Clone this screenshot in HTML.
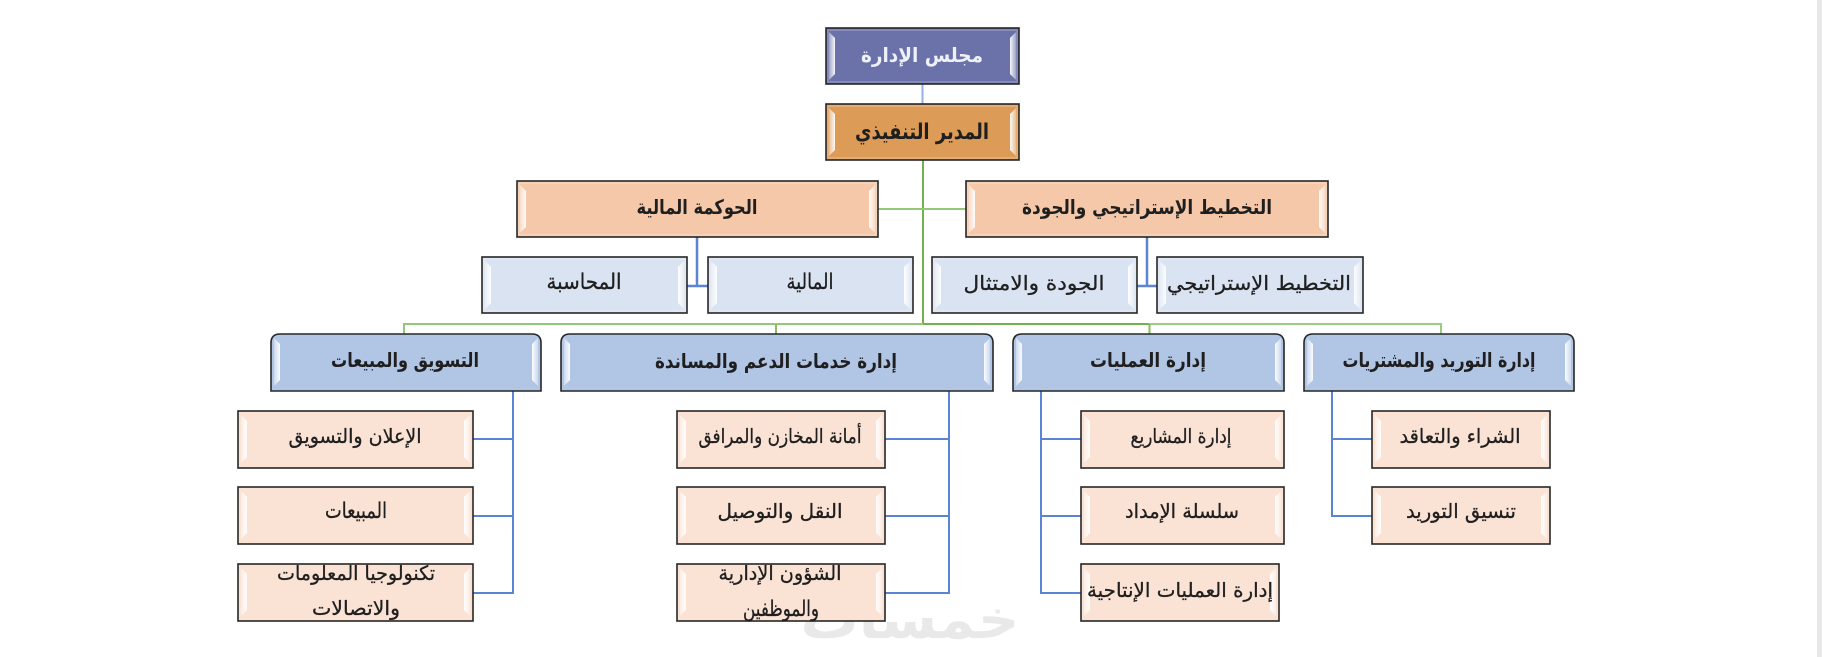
<!DOCTYPE html>
<html lang="ar">
<head>
<meta charset="utf-8">
<title>الهيكل التنظيمي</title>
<style>
html,body{margin:0;padding:0;background:#fff;width:1822px;height:657px;overflow:hidden}
svg{display:block;filter:blur(.3px)}
text{font-family:"DejaVu Sans","Liberation Sans",sans-serif;direction:rtl;text-anchor:middle;fill:#1f1f1f;font-size:20px;stroke:#1f1f1f;stroke-width:.3px}
.b{font-weight:bold;font-size:20px;stroke-width:0}
.box{stroke:#262626;stroke-width:1.6}
.in{fill:none;stroke:#fff;stroke-opacity:.18;stroke-width:2}
.bar{fill:url(#bargrad)}
.bar2{fill:url(#bargrad2)}
.line{fill:none;stroke:#5b85d2;stroke-width:2}
.g{fill:none;stroke:#86bd62;stroke-width:2}
</style>
</head>
<body>
<svg xmlns="http://www.w3.org/2000/svg" width="1822" height="657" viewBox="0 0 1822 657">
<defs>
<linearGradient id="bargrad" x1="0" x2="1" y1="0" y2="0"><stop offset="0" stop-color="#fff" stop-opacity=".35"/><stop offset="1" stop-color="#fff" stop-opacity=".95"/></linearGradient>
<linearGradient id="bargrad2" x1="0" x2="1" y1="0" y2="0"><stop offset="0" stop-color="#fff" stop-opacity=".95"/><stop offset="1" stop-color="#fff" stop-opacity=".35"/></linearGradient>
<polygon id="lb" class="bar" points="3,4 9,10 9,46 3,52"/>
<polygon id="rb" class="bar2" points="-3,4 -9,10 -9,46 -3,52"/>
</defs>
<rect x="1817" y="0" width="5" height="657" fill="#e8e8e8"/>

<!-- watermark -->
<text class="b" x="910" y="638" textLength="219" lengthAdjust="spacingAndGlyphs" style="font-size:54px;fill:#e9e9e9;stroke:none">خمسات</text>

<!-- connectors -->
<path d="M922.5 84V104" fill="none" stroke="#93b1e2" stroke-width="2"/>
<path class="g" d="M923 160V325" style="stroke:#72b04c"/>
<path class="g" d="M878 209H966" style="stroke:#93c878"/>
<path class="g" d="M404 334V324H923" style="stroke:#93c878"/>
<path class="g" d="M923 324H1149" style="stroke:#74b24e"/>
<path class="g" d="M1149 324H1441V334" style="stroke:#9ccc82"/>
<path class="g" d="M776 334V324"/>
<path class="g" d="M1149.5 334V324"/>
<path class="line" d="M1147 237V286M1137 286H1157" style="stroke-width:2.5"/>
<path class="line" d="M697 237V286M687 286H708" style="stroke-width:2.5"/>
<path class="line" d="M513 391V593H473M473 439H513M473 516H513"/>
<path class="line" d="M949 391V593H885M885 439H949M885 516H949"/>
<path class="line" d="M1041 391V593H1081M1081 439H1041M1081 516H1041"/>
<path class="line" d="M1332 391V516H1372M1372 439H1332"/>

<!-- level 1 -->
<g transform="translate(826,28)"><rect class="box" width="193" height="56" fill="#6b72a9"/><rect class="in" x="2" y="2" width="189" height="52"/><use href="#lb"/><use href="#rb" x="193"/></g>
<text class="b" x="922" y="62" textLength="122" lengthAdjust="spacingAndGlyphs" style="fill:#eef1f8">مجلس الإدارة</text>
<g transform="translate(826,104)"><rect class="box" width="193" height="56" fill="#dd9b58"/><rect class="in" x="2" y="2" width="189" height="52"/><use href="#lb"/><use href="#rb" x="193"/></g>
<text class="b" x="922" y="139" textLength="134" lengthAdjust="spacingAndGlyphs" style="font-size:22px">المدير التنفيذي</text>

<!-- level 2 -->
<g transform="translate(966,181)"><rect class="box" width="362" height="56" fill="#f5c8a9"/><rect class="in" x="2" y="2" width="358" height="52"/><use href="#lb"/><use href="#rb" x="362"/></g>
<text class="b" x="1147" y="214" textLength="250" lengthAdjust="spacingAndGlyphs">التخطيط الإستراتيجي والجودة</text>
<g transform="translate(517,181)"><rect class="box" width="361" height="56" fill="#f5c8a9"/><rect class="in" x="2" y="2" width="357" height="52"/><use href="#lb"/><use href="#rb" x="361"/></g>
<text class="b" x="697" y="214" textLength="121" lengthAdjust="spacingAndGlyphs">الحوكمة المالية</text>

<!-- level 3 -->
<g transform="translate(1157,257)"><rect class="box" width="206" height="56" fill="#d9e3f2"/><rect class="in" x="2" y="2" width="202" height="52"/><use href="#lb"/><use href="#rb" x="206"/></g>
<text x="1259" y="290" textLength="184" lengthAdjust="spacingAndGlyphs">التخطيط الإستراتيجي</text>
<g transform="translate(932,257)"><rect class="box" width="205" height="56" fill="#d9e3f2"/><rect class="in" x="2" y="2" width="201" height="52"/><use href="#lb"/><use href="#rb" x="205"/></g>
<text x="1034" y="290" textLength="141" lengthAdjust="spacingAndGlyphs">الجودة والامتثال</text>
<g transform="translate(708,257)"><rect class="box" width="205" height="56" fill="#d9e3f2"/><rect class="in" x="2" y="2" width="201" height="52"/><use href="#lb"/><use href="#rb" x="205"/></g>
<text x="810" y="289" textLength="47" lengthAdjust="spacingAndGlyphs" style="font-size:22px">المالية</text>
<g transform="translate(482,257)"><rect class="box" width="205" height="56" fill="#d9e3f2"/><rect class="in" x="2" y="2" width="201" height="52"/><use href="#lb"/><use href="#rb" x="205"/></g>
<text x="584" y="289" textLength="75" lengthAdjust="spacingAndGlyphs" style="font-size:22px">المحاسبة</text>

<!-- departments -->
<g transform="translate(271,334)"><path class="box" d="M0 57V9Q0 0 9 0H261Q270 0 270 9V57Z" fill="#b1c5e5"/><use href="#lb"/><use href="#rb" x="270"/></g>
<text class="b" x="405" y="367" textLength="148" lengthAdjust="spacingAndGlyphs">التسويق والمبيعات</text>
<g transform="translate(561,334)"><path class="box" d="M0 57V9Q0 0 9 0H423Q432 0 432 9V57Z" fill="#b1c5e5"/><use href="#lb"/><use href="#rb" x="432"/></g>
<text class="b" x="776" y="368" textLength="242" lengthAdjust="spacingAndGlyphs">إدارة  خدمات الدعم والمساندة</text>
<g transform="translate(1013,334)"><path class="box" d="M0 57V9Q0 0 9 0H262Q271 0 271 9V57Z" fill="#b1c5e5"/><use href="#lb"/><use href="#rb" x="271"/></g>
<text class="b" x="1148" y="367" textLength="116" lengthAdjust="spacingAndGlyphs">إدارة العمليات</text>
<g transform="translate(1304,334)"><path class="box" d="M0 57V9Q0 0 9 0H261Q270 0 270 9V57Z" fill="#b1c5e5"/><use href="#lb"/><use href="#rb" x="270"/></g>
<text class="b" x="1439" y="367" textLength="193" lengthAdjust="spacingAndGlyphs">إدارة  التوريد والمشتريات</text>

<!-- marketing leaves -->
<g transform="translate(238,411)"><rect class="box" width="235" height="57" fill="#fae3d5"/><use href="#lb"/><use href="#rb" x="235"/></g>
<text x="355" y="443" textLength="133" lengthAdjust="spacingAndGlyphs">الإعلان والتسويق</text>
<g transform="translate(238,487)"><rect class="box" width="235" height="57" fill="#fae3d5"/><use href="#lb"/><use href="#rb" x="235"/></g>
<text x="356" y="518" textLength="62" lengthAdjust="spacingAndGlyphs" style="font-size:22px">المبيعات</text>
<g transform="translate(238,564)"><rect class="box" width="235" height="57" fill="#fae3d5"/><use href="#lb"/><use href="#rb" x="235"/></g>
<text x="356" y="580" textLength="158" lengthAdjust="spacingAndGlyphs">تكنولوجيا المعلومات</text>
<text x="356" y="615" textLength="88" lengthAdjust="spacingAndGlyphs">والاتصالات</text>

<!-- support leaves -->
<g transform="translate(677,411)"><rect class="box" width="208" height="57" fill="#fae3d5"/><use href="#lb"/><use href="#rb" x="208"/></g>
<text x="780" y="443" textLength="163" lengthAdjust="spacingAndGlyphs">أمانة المخازن والمرافق</text>
<g transform="translate(677,487)"><rect class="box" width="208" height="57" fill="#fae3d5"/><use href="#lb"/><use href="#rb" x="208"/></g>
<text x="780" y="518" textLength="125" lengthAdjust="spacingAndGlyphs">النقل والتوصيل</text>
<g transform="translate(677,564)"><rect class="box" width="208" height="57" fill="#fae3d5"/><use href="#lb"/><use href="#rb" x="208"/></g>
<text x="780" y="580" textLength="123" lengthAdjust="spacingAndGlyphs">الشؤون الإدارية</text>
<text x="781" y="616" textLength="76" lengthAdjust="spacingAndGlyphs" style="font-size:22px">والموظفين</text>

<!-- ops leaves -->
<g transform="translate(1081,411)"><rect class="box" width="203" height="57" fill="#fae3d5"/><use href="#lb"/><use href="#rb" x="203"/></g>
<text x="1181" y="443" textLength="101" lengthAdjust="spacingAndGlyphs">إدارة المشاريع</text>
<g transform="translate(1081,487)"><rect class="box" width="203" height="57" fill="#fae3d5"/><use href="#lb"/><use href="#rb" x="203"/></g>
<text x="1182" y="518" textLength="114" lengthAdjust="spacingAndGlyphs">سلسلة الإمداد</text>
<g transform="translate(1081,564)"><rect class="box" width="198" height="57" fill="#fae3d5"/><use href="#lb"/><use href="#rb" x="198"/></g>
<text x="1180" y="597" textLength="186" lengthAdjust="spacingAndGlyphs">إدارة العمليات الإنتاجية</text>

<!-- procurement leaves -->
<g transform="translate(1372,411)"><rect class="box" width="178" height="57" fill="#fae3d5"/><use href="#lb"/><use href="#rb" x="178"/></g>
<text x="1460" y="443" textLength="121" lengthAdjust="spacingAndGlyphs">الشراء والتعاقد</text>
<g transform="translate(1372,487)"><rect class="box" width="178" height="57" fill="#fae3d5"/><use href="#lb"/><use href="#rb" x="178"/></g>
<text x="1461" y="518" textLength="110" lengthAdjust="spacingAndGlyphs">تنسيق التوريد</text>
</svg>
</body>
</html>
